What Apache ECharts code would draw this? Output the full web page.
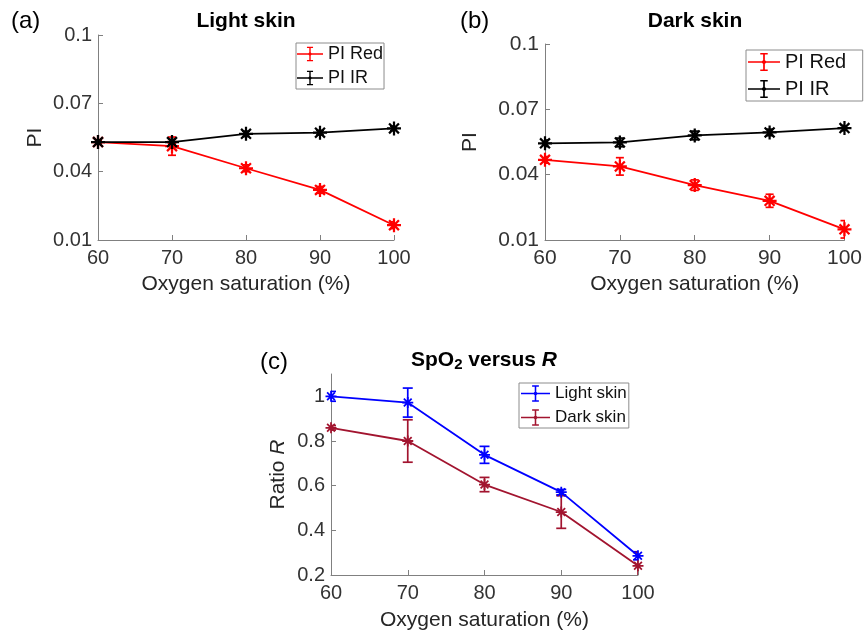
<!DOCTYPE html>
<html>
<head>
<meta charset="utf-8">
<script src="https://cdn.jsdelivr.net/npm/echarts@6.0.0/dist/echarts.min.js"></script>
<style>
html,body{margin:0;padding:0;background:#fff;}
#chart{width:865px;height:636px;}
</style>
</head>
<body>
<div id="chart"></div>
<script>
// ---------------- data ----------------
const xValues = [60, 70, 80, 90, 100];

const lightRed    = [0.0530, 0.0512, 0.0415, 0.0320, 0.0165];
const lightRedErr = [0.0008, 0.0040, 0.0015, 0.0015, 0.0015];
const lightIR     = [0.0530, 0.0530, 0.0566, 0.0571, 0.0590];
const lightIRErr  = [0.0010, 0.0012, 0.0012, 0.0010, 0.0010];

const darkRed     = [0.0468, 0.0438, 0.0352, 0.0280, 0.0149];
const darkRedErr  = [0.0015, 0.0040, 0.0024, 0.0030, 0.0040];
const darkIR      = [0.0544, 0.0548, 0.0580, 0.0594, 0.0614];
const darkIRErr   = [0.0015, 0.0020, 0.0020, 0.0015, 0.0012];

const ratioLight    = [1.000, 0.972, 0.738, 0.571, 0.286];
const ratioLightErr = [0.022, 0.065, 0.038, 0.012, 0.018];
const ratioDark     = [0.859, 0.800, 0.605, 0.482, 0.241];
const ratioDarkErr  = [0.010, 0.095, 0.032, 0.073, 0.060];

const piTicks    = [0.01, 0.04, 0.07, 0.1];
const ratioTicks = [0.2, 0.4, 0.6, 0.8, 1];

// ---------------- helpers ----------------
const FONT = 'Liberation Sans';
const RED = '#FF0000', BLACK = '#000000', BLUE = '#0000FF', CRIMSON = '#A2142F';
const AXIS_COLOR = '#808080', LABEL_COLOR = '#333333';

function asteriskPath() {
  const L = 10, w = 1.6;
  let d = '';
  [0, 45, 90, 135].forEach(function (deg) {
    const a = deg * Math.PI / 180, c = Math.cos(a), s = Math.sin(a);
    const pts = [[-L, -w], [L, -w], [L, w], [-L, w]].map(function (p) {
      return [(p[0] * c - p[1] * s).toFixed(3), (p[0] * s + p[1] * c).toFixed(3)];
    });
    d += 'M' + pts[0].join(',') + ' L' + pts[1].join(',') + ' L' + pts[2].join(',') + ' L' + pts[3].join(',') + ' Z ';
  });
  return 'path://' + d;
}
const ASTERISK = asteriskPath();
const LEGEND_ICON = 'path://M0,9.2 L30,9.2 L30,10.8 L0,10.8 Z M14.2,2 L15.8,2 L15.8,18 L14.2,18 Z M11.5,1.5 L18.5,1.5 L18.5,3 L11.5,3 Z M11.5,17 L18.5,17 L18.5,18.5 L11.5,18.5 Z M15,7.4 L17.6,10 L15,12.6 L12.4,10 Z';

function pairs(ys) { return xValues.map(function (x, i) { return [x, ys[i]]; }); }
function triples(ys, es) { return xValues.map(function (x, i) { return [x, ys[i], es[i]]; }); }

function lineSeries(name, ys, color, gi, size) {
  return {
    type: 'line', name: name, data: pairs(ys),
    xAxisIndex: gi, yAxisIndex: gi,
    symbol: ASTERISK, symbolSize: size,
    lineStyle: { color: color, width: 1.8 },
    itemStyle: { color: color, borderWidth: 0 },
    z: 3, animation: false
  };
}
function errSeries(name, ys, es, color, gi, capHalf) {
  return {
    type: 'custom', name: name, data: triples(ys, es),
    xAxisIndex: gi, yAxisIndex: gi, clip: true,
    encode: { x: 0, y: 1 },
    itemStyle: { color: color },
    renderItem: function (params, api) {
      const x = api.value(0), y = api.value(1), e = api.value(2);
      const t = api.coord([x, y + e]), b = api.coord([x, y - e]);
      const st = { stroke: color, lineWidth: 1.7 };
      return {
        type: 'group',
        children: [
          { type: 'line', shape: { x1: t[0], y1: t[1], x2: b[0], y2: b[1] }, style: st },
          { type: 'line', shape: { x1: t[0] - capHalf, y1: t[1], x2: t[0] + capHalf, y2: t[1] }, style: st },
          { type: 'line', shape: { x1: b[0] - capHalf, y1: b[1], x2: b[0] + capHalf, y2: b[1] }, style: st }
        ]
      };
    },
    z: 2, animation: false
  };
}
function xAxisCfg(gi, fs, nameFs, nameGap, margin) {
  return {
    type: 'value', gridIndex: gi, min: 60, max: 100, interval: 10,
    name: 'Oxygen saturation (%)', nameLocation: 'middle', nameGap: nameGap,
    nameTextStyle: { fontSize: nameFs, color: '#262626', fontFamily: FONT },
    axisLine: { show: true, lineStyle: { color: AXIS_COLOR, width: 1 } },
    axisTick: { show: true, inside: true, length: 5, lineStyle: { color: AXIS_COLOR } },
    axisLabel: { fontSize: fs, color: LABEL_COLOR, margin: margin, fontFamily: FONT },
    splitLine: { show: false }
  };
}
function yAxisCfg(gi, min, max, ticks, fmt, name, nameGap, fs, nameStyle) {
  return {
    type: 'value', gridIndex: gi, min: min, max: max,
    name: name, nameLocation: 'middle', nameGap: nameGap,
    nameTextStyle: nameStyle,
    axisLine: { show: true, lineStyle: { color: AXIS_COLOR, width: 1 } },
    axisTick: { show: true, inside: true, length: 5, customValues: ticks, lineStyle: { color: AXIS_COLOR } },
    axisLabel: { fontSize: fs, color: LABEL_COLOR, margin: 6, fontFamily: FONT, customValues: ticks, formatter: fmt },
    splitLine: { show: false }
  };
}
const piFmt = function (v) { return String(+(+v).toFixed(2)); };
const ratioFmt = function (v) { return String(+(+v).toFixed(1)); };

function legendCfg(names, left, top, iw, ih, gap, fs, pad) {
  return {
    data: names, left: left, top: top, orient: 'vertical',
    icon: LEGEND_ICON, itemWidth: iw, itemHeight: ih, itemGap: gap,
    padding: pad, backgroundColor: '#ffffff',
    borderColor: '#8c8c8c', borderWidth: 1, borderRadius: 0,
    textStyle: { fontSize: fs, color: '#111', fontFamily: FONT },
    selectedMode: false
  };
}

const option = {
  animation: false,
  backgroundColor: '#ffffff',
  textStyle: { fontFamily: FONT },
  grid: [
    { left: 98, top: 35, width: 296, height: 205 },
    { left: 545, top: 44, width: 302, height: 196 },
    { left: 331, top: 374, width: 307, height: 201 }
  ],
  xAxis: [
    xAxisCfg(0, 20, 21, 34, 8),
    xAxisCfg(1, 21, 21, 34, 8),
    xAxisCfg(2, 20, 21, 35, 8)
  ],
  yAxis: [
    yAxisCfg(0, 0.01, 0.1, piTicks, piFmt, 'PI', 52, 20, { fontSize: 21, color: '#262626', fontFamily: FONT }),
    yAxisCfg(1, 0.01, 0.1, piTicks, piFmt, 'PI', 64, 21, { fontSize: 21, color: '#262626', fontFamily: FONT }),
    yAxisCfg(2, 0.2, 1.1, ratioTicks, ratioFmt, '{n|Ratio }{i|R}', 42, 20, {
      fontFamily: FONT, color: '#262626',
      rich: {
        n: { fontSize: 21, color: '#262626', fontFamily: FONT },
        i: { fontSize: 21, color: '#262626', fontFamily: FONT, fontStyle: 'italic' }
      }
    })
  ],
  legend: [
    legendCfg(['PI Red', 'PI IR'], 296, 43, 26, 22, 6, 18, [2, 1, 2, 1]),
    legendCfg(['PI Red ', 'PI IR '], 746, 50, 32, 25, 7, 20, [2, 11, 2, 2]),
    legendCfg(['Light skin', 'Dark skin'], 519, 383, 29, 22, 7, 17, [2, 2, 2, 2])
  ],
  graphic: [
    { type: 'text', x: 11, y: 9, style: { text: '(a)', font: '24px "Liberation Sans"', fill: '#000' } },
    { type: 'text', x: 460, y: 9, style: { text: '(b)', font: '24px "Liberation Sans"', fill: '#000' } },
    { type: 'text', x: 260, y: 350, style: { text: '(c)', font: '24px "Liberation Sans"', fill: '#000' } },
    { type: 'text', x: 246, y: 11, style: { text: 'Light skin', font: 'bold 21px "Liberation Sans"', fill: '#000', textAlign: 'center', textVerticalAlign: 'top' } },
    { type: 'text', x: 695, y: 11, style: { text: 'Dark skin', font: 'bold 21px "Liberation Sans"', fill: '#000', textAlign: 'center', textVerticalAlign: 'top' } },
    { type: 'text', x: 484, y: 348, style: {
        text: '{b|SpO}{s|2}{b| versus }{bi|R}', textAlign: 'center', textVerticalAlign: 'top',
        rich: {
          b: { fontSize: 21, fontWeight: 'bold', fontFamily: FONT, fill: '#000', lineHeight: 24 },
          s: { fontSize: 15, fontWeight: 'bold', fontFamily: FONT, fill: '#000', lineHeight: 9, verticalAlign: 'bottom' },
          bi: { fontSize: 21, fontWeight: 'bold', fontStyle: 'italic', fontFamily: FONT, fill: '#000', lineHeight: 24 }
        }
      } }
  ],
  series: [
    errSeries('PI Red', lightRed, lightRedErr, RED, 0, 4),
    errSeries('PI IR', lightIR, lightIRErr, BLACK, 0, 4),
    lineSeries('PI Red', lightRed, RED, 0, 14),
    lineSeries('PI IR', lightIR, BLACK, 0, 14),

    errSeries('PI Red ', darkRed, darkRedErr, RED, 1, 4),
    errSeries('PI IR ', darkIR, darkIRErr, BLACK, 1, 4),
    lineSeries('PI Red ', darkRed, RED, 1, 14),
    lineSeries('PI IR ', darkIR, BLACK, 1, 14),

    errSeries('Light skin', ratioLight, ratioLightErr, BLUE, 2, 5),
    errSeries('Dark skin', ratioDark, ratioDarkErr, CRIMSON, 2, 5),
    lineSeries('Light skin', ratioLight, BLUE, 2, 11),
    lineSeries('Dark skin', ratioDark, CRIMSON, 2, 11)
  ]
};

const chart = echarts.init(document.getElementById('chart'), null, { renderer: 'canvas' });
chart.setOption(option);
</script>
</body>
</html>
